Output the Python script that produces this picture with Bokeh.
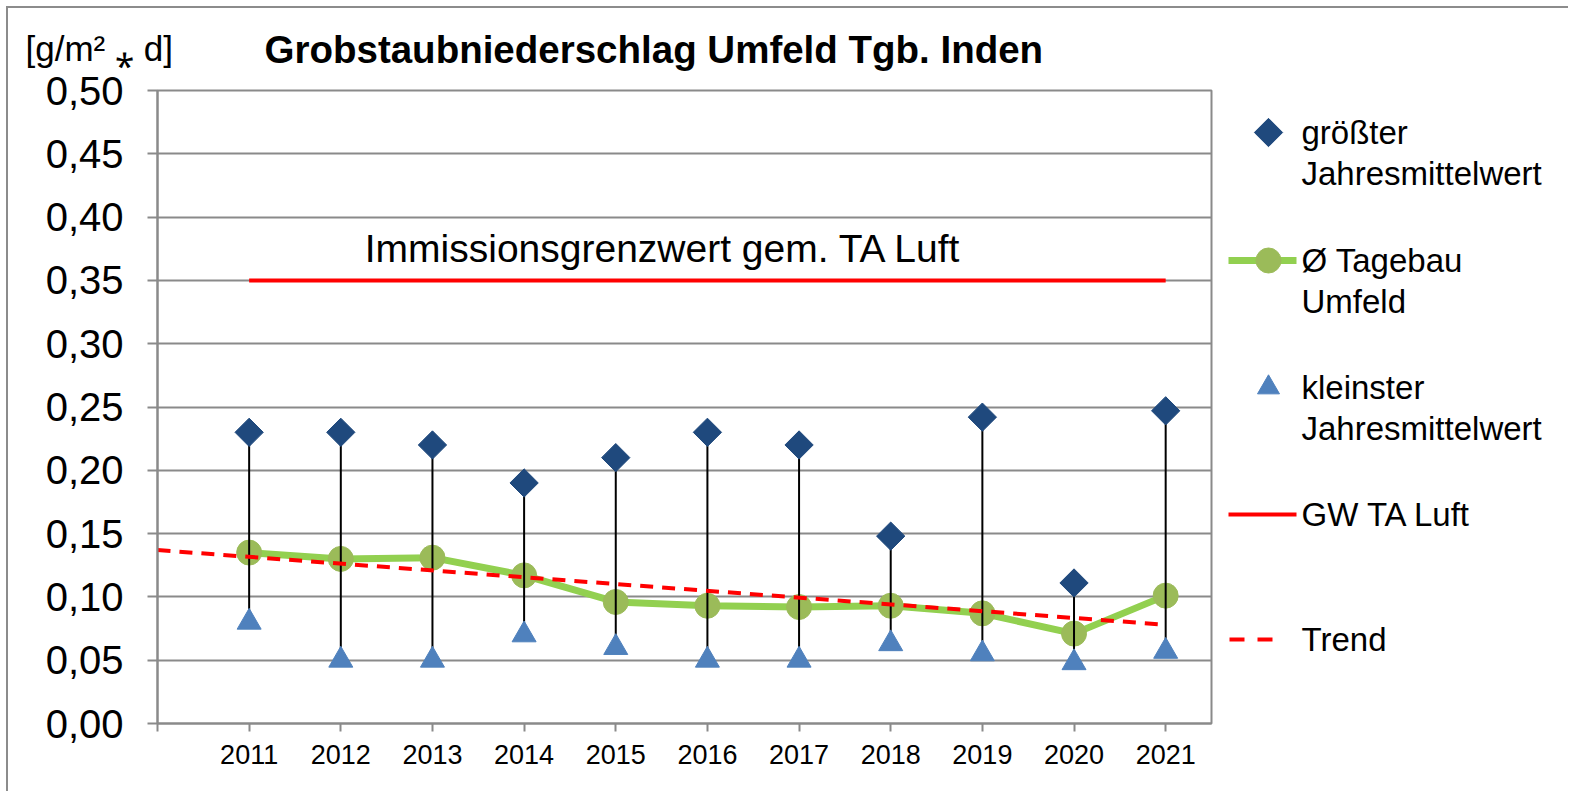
import numpy as np
from bokeh.plotting import figure
from bokeh.models import Range1d, FixedTicker, Label, CustomJSTickFormatter
from bokeh.layouts import row
from bokeh.embed import file_html
from bokeh.resources import INLINE
from bokeh.core.properties import value

# ---------------- data ----------------
years = [2011, 2012, 2013, 2014, 2015, 2016, 2017, 2018, 2019, 2020, 2021]
max_vals = [0.230, 0.230, 0.220, 0.190, 0.210, 0.230, 0.220, 0.148, 0.242, 0.111, 0.247]
mean_vals = [0.135, 0.130, 0.131, 0.117, 0.096, 0.093, 0.092, 0.093, 0.087, 0.071, 0.101]
min_vals = [0.080, 0.050, 0.050, 0.070, 0.060, 0.050, 0.050, 0.063, 0.055, 0.048, 0.057]
trend_years = [2010, 2021]
trend_vals = [0.137, 0.078]
limit_years = [2011, 2021]
limit_vals = [0.35, 0.35]

y_ticks = [0.0, 0.05, 0.1, 0.15, 0.2, 0.25, 0.3, 0.35, 0.4, 0.45, 0.5]
y_tick_labels = ["0,00", "0,05", "0,10", "0,15", "0,20", "0,25", "0,30", "0,35", "0,40", "0,45", "0,50"]
x_ticks = [2010, 2011, 2012, 2013, 2014, 2015, 2016, 2017, 2018, 2019, 2020, 2021]
x_tick_labels = ["", "2011", "2012", "2013", "2014", "2015", "2016", "2017", "2018", "2019", "2020", "2021"]

title_text = "Grobstaubniederschlag Umfeld Tgb. Inden"
unit_text = "[g/m\u00b2 \u204e d]"
limit_text = "Immissionsgrenzwert gem. TA Luft"
legend_labels = [["größter", "Jahresmittelwert"], ["Ø Tagebau", "Umfeld"],
                 ["kleinster", "Jahresmittelwert"], ["GW TA Luft"], ["Trend"]]

# ---------------- style ----------------
FONT = "Liberation Sans"
GRAY = "#8a8a8a"
DARK_BLUE = "#1F497D"
LIGHT_BLUE = "#4F81BD"
GREEN_LINE = "#92D050"
GREEN_DOT = "#9BBB59"
RED = "#FF0000"

OFF = 8                      # content origin on the page
X0, X1 = 2010, 2021.5
Y0, Y1 = 0.0, 0.5
FRAME_W, FRAME_H = 1054, 633
BL, BR, BT, BB = 149, 2, 81, 70
TOTAL_W = 1562
FL, FT = OFF + BL, OFF + BT  # frame left / top in page px


def px_to_x(px):  # page px -> data x
    return X0 + (px - FL) / FRAME_W * (X1 - X0)


def py_to_y(py):  # page px -> data y
    return Y0 + (FT + FRAME_H - py) / FRAME_H * (Y1 - Y0)


p = figure(frame_width=FRAME_W, frame_height=FRAME_H,
           min_border_left=BL, min_border_right=BR, min_border_top=BT, min_border_bottom=BB,
           x_range=Range1d(X0, X1), y_range=Range1d(Y0, Y1),
           output_backend="svg", toolbar_location=None, title=None)
p.background_fill_color = "white"
p.border_fill_color = "white"
p.outline_line_color = GRAY
p.outline_line_width = 2

p.xgrid.visible = False
p.ygrid.ticker = FixedTicker(ticks=y_ticks)
p.ygrid.grid_line_color = GRAY
p.ygrid.grid_line_width = 2

fmt_js = """
let best = 0;
for (let i = 0; i < tvals.length; i++) {
  if (Math.abs(tvals[i] - tick) < Math.abs(tvals[best] - tick)) best = i;
}
return tlabels[best];
"""
p.yaxis.ticker = FixedTicker(ticks=y_ticks)
p.yaxis.formatter = CustomJSTickFormatter(args=dict(tvals=y_ticks, tlabels=y_tick_labels), code=fmt_js)
p.xaxis.ticker = FixedTicker(ticks=x_ticks)
p.xaxis.formatter = CustomJSTickFormatter(args=dict(tvals=x_ticks, tlabels=x_tick_labels), code=fmt_js)

for ax in (p.xaxis, p.yaxis):
    ax.axis_line_color = GRAY
    ax.axis_line_width = 2
    ax.major_tick_line_color = GRAY
    ax.major_tick_line_width = 2
    ax.major_tick_in = 0
    ax.minor_tick_line_color = None
    ax.major_label_text_font = FONT
    ax.major_label_text_color = "black"
p.yaxis.major_tick_out = 10
p.yaxis.major_label_standoff = 24
p.yaxis.major_label_text_font_size = "40px"
p.xaxis.major_tick_out = 8
p.xaxis.major_label_standoff = 13
p.xaxis.major_label_text_font_size = "27px"

# series
p.line(years, mean_vals, line_color=GREEN_LINE, line_width=7, line_join="round")
p.scatter(years, mean_vals, marker="circle", size=25, fill_color=GREEN_DOT, line_color=GREEN_DOT)
p.segment(x0=years, y0=min_vals, x1=years, y1=max_vals, line_color="black", line_width=2)
p.scatter(years, max_vals, marker="square", angle=np.pi / 4, size=20,
          fill_color=DARK_BLUE, line_color=DARK_BLUE)
p.scatter(years, min_vals, marker="triangle", size=24, fill_color=LIGHT_BLUE, line_color=LIGHT_BLUE)
p.line(trend_years, trend_vals, line_color=RED, line_width=4, line_dash="13 9")
p.line(limit_years, limit_vals, line_color=RED, line_width=4)

p.add_layout(Label(x=px_to_x(663), y=py_to_y(247), text=limit_text, text_align="center",
                   text_baseline="middle", text_font=FONT, text_font_size="39px", text_color="black"))

# title and unit label live in the top panel (not clipped to the plot frame)
p.add_layout(Label(x=px_to_x(264), y=py_to_y(48), text=title_text, text_align="left",
                   text_baseline="middle", text_font=FONT, text_font_size="38.5px",
                   text_font_style="bold", text_color="black"), "above")
p.add_layout(Label(x=px_to_x(25), y=py_to_y(47), text=unit_text, text_align="left",
                   text_baseline="middle", text_font=FONT, text_font_size="35px",
                   text_color="black"), "above")

# ---------------- legend panel ----------------
LX0 = FL + FRAME_W + BR
LW = TOTAL_W - (BL + FRAME_W + BR)
lg = figure(frame_width=LW, frame_height=FRAME_H,
            min_border_left=0, min_border_right=0, min_border_top=BT, min_border_bottom=BB,
            x_range=Range1d(LX0, LX0 + LW), y_range=Range1d(FT + FRAME_H, FT),
            output_backend="svg", toolbar_location=None, title=None)
lg.axis.visible = False
lg.grid.visible = False
lg.outline_line_color = None
lg.background_fill_color = "white"
lg.border_fill_color = "white"

mx = 1268
tx = 1301
row_y = [131, 259, 386, 513, 638]
line_gap = 41

lg.scatter([mx], [row_y[0]], marker="square", angle=np.pi / 4, size=20,
           fill_color=DARK_BLUE, line_color=DARK_BLUE)
lg.line([1228, 1296], [row_y[1], row_y[1]], line_color=GREEN_LINE, line_width=7)
lg.scatter([mx], [row_y[1]], marker="circle", size=25, fill_color=GREEN_DOT, line_color=GREEN_DOT)
lg.scatter([mx], [row_y[2]], marker="triangle", size=22, fill_color=LIGHT_BLUE, line_color=LIGHT_BLUE)
lg.line([1228, 1296], [row_y[3], row_y[3]], line_color=RED, line_width=4)
lg.line([1229, 1275], [row_y[4], row_y[4]], line_color=RED, line_width=4, line_dash="15 13")

tx_list, ty_list, tt_list = [], [], []
for ry, labs in zip(row_y, legend_labels):
    for k, t in enumerate(labs):
        tx_list.append(tx)
        ty_list.append(ry + k * line_gap)
        tt_list.append(t)
lg.text(x=tx_list, y=ty_list, text=tt_list, text_font=value(FONT), text_font_size="33px",
        text_baseline="middle", text_align="left", text_color="black")

layout = row(p, lg, spacing=0, styles={
    "margin-left": "8px",
    "margin-top": "8px",
    "box-shadow": "-2px -2px 0 0 #8c8c8c",
})
open("out.html", "w").write(file_html(layout, INLINE))
